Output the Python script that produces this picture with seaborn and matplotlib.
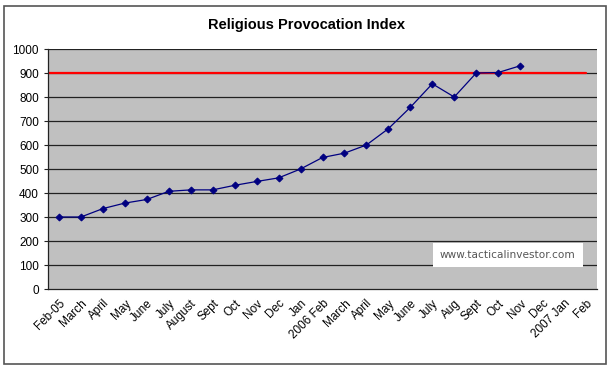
import numpy as np
import pandas as pd
import matplotlib
matplotlib.use("Agg")
import matplotlib.pyplot as plt
import seaborn as sns

# monthly categories, Feb 2005 - Feb 2007
months = ["Feb-05", "March", "April", "May", "June", "July", "August", "Sept",
          "Oct", "Nov", "Dec", "Jan", "2006 Feb", "March", "April", "May",
          "June", "July", "Aug", "Sept", "Oct", "Nov", "Dec", "2007 Jan", "Feb"]
index_vals = [300, 300, 335, 358, 373, 407, 413, 413, 432, 448, 463, 500,
              548, 566, 600, 668, 757, 855, 800, 900, 902, 930]
threshold = 900

df = pd.DataFrame({"pos": np.arange(len(index_vals)), "value": index_vals})

sns.set_style("white")
plt.rcParams["font.family"] = ["Liberation Sans", "DejaVu Sans"]
plt.rcParams["text.color"] = "black"
plt.rcParams["xtick.color"] = "black"
plt.rcParams["ytick.color"] = "black"

fig = plt.figure(figsize=(6.12, 3.68), dpi=100)
ax = fig.add_axes([48 / 612, 1 - 289 / 368, (597 - 48) / 612, (289 - 49) / 368])
ax.set_facecolor("#c0c0c0")

# outer frame of the chart
fig.patches.append(plt.Rectangle((4 / 612, 4 / 368), 602 / 612, 358 / 368,
                                 transform=fig.transFigure, fill=False,
                                 edgecolor="#555555", lw=1.2))

for y in range(100, 1001, 100):
    ax.axhline(y, color="#222222", lw=0.9, zorder=1)

ax.plot([-0.5, len(months) - 1], [threshold, threshold], color="#ff0000", lw=1.6, zorder=2)

sns.lineplot(data=df, x="pos", y="value", ax=ax, color="#000080", lw=0.9,
             marker="D", markersize=3.5, markeredgecolor="#000080", zorder=3)

ax.set_xlim(-0.5, len(months) - 0.5)
ax.set_ylim(0, 1000)
ax.set_yticks(range(0, 1001, 100))
ax.set_xticks(np.arange(len(months)))
ax.set_xticklabels(months, rotation=45, ha="right", rotation_mode="anchor", fontsize=8.5)
ax.set_xticks(np.arange(len(months) + 1) - 0.5, minor=True)
ax.tick_params(axis="x", which="major", length=0, pad=6)
ax.tick_params(axis="x", which="minor", length=3, direction="out", color="#222222")
ax.tick_params(axis="y", length=3, direction="out", labelsize=8.5, color="#222222", left=True)
ax.set_xlabel("")
ax.set_ylabel("")

for s in ["top", "right"]:
    ax.spines[s].set_visible(False)
for s in ["left", "bottom"]:
    ax.spines[s].set_color("#222222")
    ax.spines[s].set_linewidth(0.9)

ax.text(0.714, 0.142, "www.tacticalinvestor.com", transform=ax.transAxes,
        fontsize=7.6, color="#555555", family="DejaVu Sans", va="center",
        bbox=dict(boxstyle="square,pad=0.7", facecolor="white", edgecolor="none"),
        zorder=4)

fig.text(0.5, 1 - 25 / 368, "Religious Provocation Index", ha="center", va="center",
         fontsize=10.5, fontweight="bold")

fig.savefig("out.png", dpi=100)
